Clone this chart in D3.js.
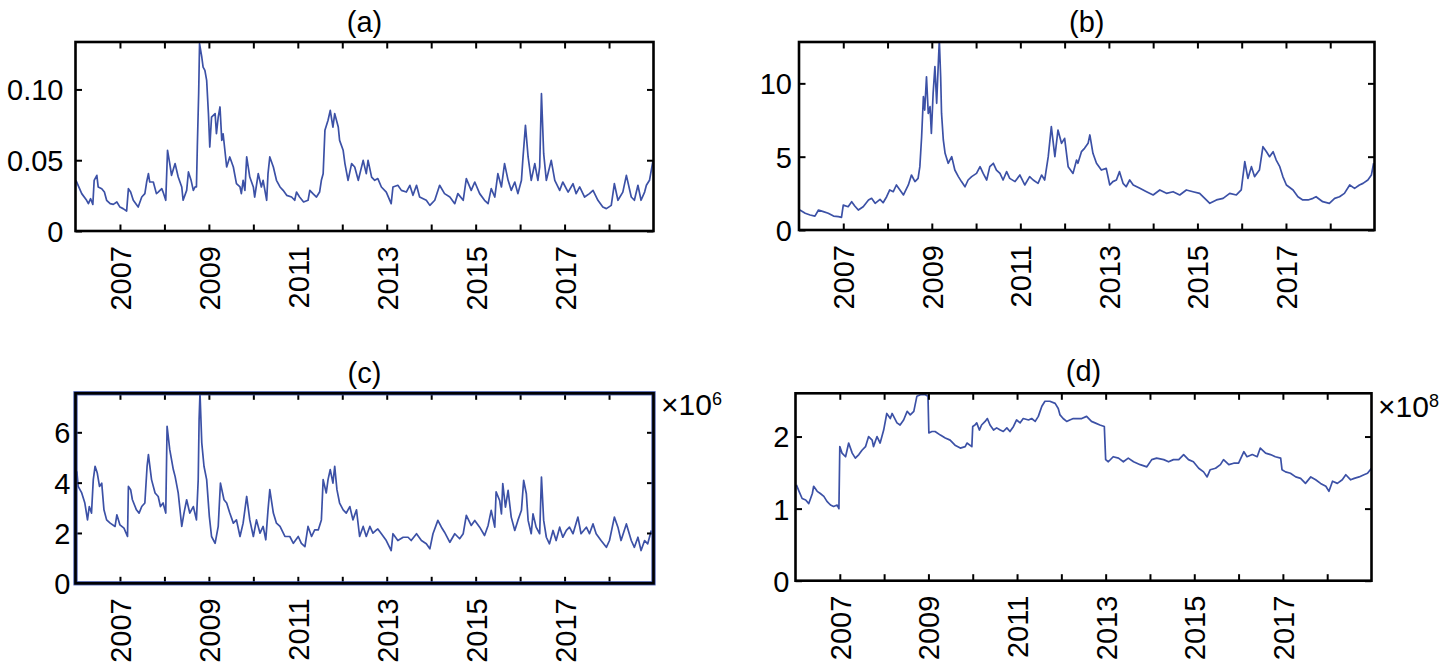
<!DOCTYPE html>
<html><head><meta charset="utf-8">
<script src="https://cdn.jsdelivr.net/npm/d3@7"></script>
<style>
body{margin:0;background:#fff}
svg{display:block}
text{font-family:"Liberation Sans",Arial,Helvetica,sans-serif;fill:#000}
</style>
</head><body>
<svg id="chart" width="1446" height="665"></svg>
<script>
// ---------------- data ----------------
const baseYear = 2006;            // series x values are years since baseYear
const xTickYears = [2007,2008,2009,2010,2011,2012,2013,2014,2015,2016,2017,2018];
const xLabelYears = [2007,2009,2011,2013,2015,2017];
const panelTitles = ["(a)","(b)","(c)","(d)"];
const yTicksA = [0,0.05,0.10], yLabelsA = ["0","0.05","0.10"];
const yTicksB = [0,5,10],      yLabelsB = ["0","5","10"];
const yTicksC = [0,2,4,6],     yLabelsC = ["0","2","4","6"];
const yTicksD = [0,1,2],       yLabelsD = ["0","1","2"];
const multiplierC = ["×10","6"];
const multiplierD = ["×10","8"];

const seriesA = [[0.01,.0358],[0.14,.0264],[0.25,.0217],[0.29,.0193],[0.34,.0228],[0.39,.0188],[0.42,.0358],[0.48,.0393],[0.51,.0311],[0.59,.0299],[0.65,.0275],[0.70,.0217],[0.78,.0193],[0.85,.0188],[0.93,.0205],[1.00,.0169],[1.07,.0158],[1.15,.0141],[1.19,.0299],[1.24,.0275],[1.30,.0217],[1.41,.0169],[1.49,.0240],[1.56,.0264],[1.60,.0346],[1.64,.0405],[1.67,.0346],[1.75,.0346],[1.82,.0264],[1.86,.0275],[1.94,.0299],[1.97,.0275],[2.03,.0217],[2.07,.0570],[2.12,.0476],[2.16,.0393],[2.24,.0476],[2.31,.0381],[2.39,.0311],[2.42,.0217],[2.50,.0287],[2.54,.0417],[2.60,.0358],[2.65,.0287],[2.69,.0311],[2.72,.0311],[2.74,.0593],[2.77,.0970],[2.79,.1323],[2.84,.1229],[2.87,.1158],[2.91,.1135],[2.95,.1064],[2.99,.0829],[3.02,.0593],[3.06,.0805],[3.14,.0829],[3.17,.0687],[3.21,.0805],[3.25,.0876],[3.29,.0640],[3.32,.0687],[3.40,.0452],[3.47,.0523],[3.55,.0452],[3.62,.0334],[3.70,.0311],[3.73,.0264],[3.77,.0358],[3.81,.0287],[3.85,.0523],[3.92,.0381],[4.00,.0311],[4.03,.0240],[4.11,.0405],[4.18,.0311],[4.22,.0358],[4.30,.0217],[4.33,.0405],[4.37,.0523],[4.45,.0452],[4.52,.0358],[4.60,.0311],[4.67,.0287],[4.75,.0252],[4.86,.0240],[4.93,.0217],[4.97,.0275],[5.04,.0240],[5.13,.0205],[5.23,.0217],[5.27,.0287],[5.34,.0264],[5.42,.0240],[5.49,.0275],[5.53,.0358],[5.57,.0405],[5.61,.0711],[5.68,.0782],[5.73,.0852],[5.79,.0734],[5.83,.0829],[5.91,.0734],[5.94,.0640],[6.02,.0570],[6.06,.0476],[6.13,.0358],[6.21,.0476],[6.28,.0452],[6.36,.0358],[6.47,.0499],[6.54,.0405],[6.58,.0499],[6.66,.0381],[6.73,.0358],[6.80,.0370],[6.88,.0311],[6.99,.0275],[7.10,.0193],[7.14,.0311],[7.25,.0323],[7.33,.0287],[7.44,.0275],[7.52,.0323],[7.59,.0252],[7.67,.0323],[7.74,.0240],[7.89,.0217],[7.97,.0181],[8.08,.0217],[8.19,.0323],[8.30,.0264],[8.42,.0240],[8.53,.0193],[8.60,.0264],[8.72,.0217],[8.79,.0370],[8.90,.0287],[8.98,.0346],[9.09,.0264],[9.20,.0217],[9.28,.0193],[9.35,.0299],[9.43,.0240],[9.50,.0405],[9.58,.0311],[9.65,.0476],[9.73,.0358],[9.80,.0287],[9.88,.0346],[9.95,.0264],[10.03,.0358],[10.06,.0499],[10.12,.0746],[10.18,.0523],[10.25,.0358],[10.33,.0476],[10.40,.0358],[10.44,.0452],[10.48,.0970],[10.53,.0546],[10.59,.0358],[10.70,.0499],[10.78,.0358],[10.89,.0287],[10.96,.0346],[11.08,.0275],[11.19,.0334],[11.26,.0264],[11.34,.0311],[11.45,.0240],[11.56,.0264],[11.64,.0287],[11.75,.0217],[11.86,.0169],[11.94,.0158],[12.05,.0181],[12.12,.0334],[12.20,.0217],[12.31,.0275],[12.39,.0393],[12.50,.0240],[12.57,.0217],[12.65,.0323],[12.72,.0217],[12.80,.0275],[12.84,.0323],[12.91,.0358],[12.99,.0499]];

const seriesB = [[0.02,1.36],[0.14,1.14],[0.25,1.02],[0.36,0.95],[0.44,1.36],[0.55,1.25],[0.66,1.14],[0.78,0.95],[0.89,0.91],[0.96,0.86],[1.00,1.70],[1.11,1.59],[1.19,1.93],[1.26,1.64],[1.34,1.36],[1.45,1.59],[1.57,2.05],[1.64,2.16],[1.72,1.82],[1.83,2.09],[1.90,1.86],[1.98,2.27],[2.05,2.73],[2.13,2.61],[2.20,3.07],[2.28,2.73],[2.36,2.39],[2.47,3.07],[2.54,3.75],[2.62,3.30],[2.69,3.52],[2.73,4.32],[2.77,6.36],[2.81,9.09],[2.84,8.18],[2.88,10.45],[2.92,7.95],[2.96,8.41],[2.99,6.59],[3.03,9.32],[3.07,11.14],[3.11,8.64],[3.15,11.59],[3.17,12.95],[3.20,10.45],[3.22,7.95],[3.26,6.14],[3.30,5.23],[3.37,4.55],[3.45,5.00],[3.52,4.09],[3.60,3.64],[3.67,3.30],[3.75,2.95],[3.82,3.41],[3.90,3.64],[4.01,3.86],[4.09,4.32],[4.16,3.86],[4.24,3.41],[4.31,4.32],[4.39,4.55],[4.46,4.09],[4.54,3.86],[4.61,3.41],[4.69,3.98],[4.76,3.52],[4.88,3.30],[4.99,3.75],[5.10,3.07],[5.21,3.64],[5.29,3.41],[5.40,3.18],[5.48,3.75],[5.55,3.41],[5.63,5.00],[5.70,7.05],[5.78,5.00],[5.85,6.82],[5.93,5.91],[6.00,6.25],[6.08,4.32],[6.19,3.86],[6.27,4.77],[6.30,4.55],[6.38,5.34],[6.45,5.57],[6.53,5.91],[6.57,6.48],[6.64,5.23],[6.72,4.55],[6.83,4.09],[6.94,4.20],[7.02,3.07],[7.09,3.30],[7.17,3.41],[7.24,3.98],[7.32,3.18],[7.39,2.95],[7.47,3.41],[7.55,3.07],[7.70,2.84],[7.85,2.61],[8.00,2.39],[8.15,2.73],[8.30,2.50],[8.45,2.61],[8.60,2.39],[8.75,2.73],[8.90,2.61],[9.05,2.50],[9.20,2.05],[9.28,1.82],[9.43,2.05],[9.58,2.16],[9.73,2.50],[9.88,2.39],[9.99,2.73],[10.07,4.66],[10.14,3.52],[10.22,4.32],[10.29,3.64],[10.40,4.09],[10.48,5.68],[10.56,5.34],[10.63,5.00],[10.71,5.34],[10.78,4.77],[10.86,4.32],[10.93,3.64],[11.01,3.07],[11.16,2.73],[11.27,2.27],[11.38,2.05],[11.50,2.05],[11.61,2.16],[11.68,2.27],[11.83,1.93],[11.98,1.82],[12.10,2.16],[12.21,2.27],[12.32,2.50],[12.44,3.07],[12.55,2.84],[12.66,3.07],[12.74,3.18],[12.85,3.41],[12.93,3.75],[12.98,4.55]];

const seriesC = [[0.03,4.45],[0.06,3.85],[0.14,3.59],[0.21,3.19],[0.27,2.52],[0.31,3.05],[0.36,2.79],[0.40,4.12],[0.44,4.65],[0.49,4.38],[0.54,3.85],[0.59,3.98],[0.64,2.92],[0.70,2.52],[0.78,2.39],[0.89,2.26],[0.93,2.72],[1.00,2.32],[1.09,2.19],[1.17,1.86],[1.19,3.85],[1.24,3.72],[1.28,3.32],[1.37,2.92],[1.43,2.79],[1.49,3.05],[1.56,3.19],[1.61,4.65],[1.64,5.11],[1.71,4.12],[1.79,3.59],[1.86,3.45],[1.91,3.05],[1.97,3.19],[2.03,2.79],[2.06,6.24],[2.12,5.31],[2.20,4.52],[2.24,4.25],[2.31,3.59],[2.39,2.26],[2.44,2.79],[2.50,3.32],[2.57,2.79],[2.65,3.05],[2.72,2.52],[2.76,4.12],[2.78,6.51],[2.80,7.57],[2.84,5.58],[2.89,4.65],[2.95,4.12],[3.01,2.66],[3.06,1.86],[3.14,1.59],[3.21,2.26],[3.26,3.98],[3.34,3.32],[3.40,3.19],[3.47,2.79],[3.55,2.39],[3.62,2.52],[3.70,1.86],[3.77,2.39],[3.85,3.45],[3.92,2.52],[4.00,1.86],[4.07,2.52],[4.15,1.99],[4.22,2.26],[4.28,1.73],[4.33,2.92],[4.37,3.72],[4.45,2.79],[4.52,2.39],[4.60,2.26],[4.71,1.86],[4.82,1.86],[4.90,1.59],[5.01,1.86],[5.08,1.59],[5.16,1.46],[5.23,2.26],[5.31,1.86],[5.38,2.12],[5.46,2.12],[5.53,2.52],[5.57,4.12],[5.64,3.59],[5.68,4.12],[5.73,4.52],[5.79,3.98],[5.83,4.65],[5.88,3.72],[5.94,3.19],[6.02,2.92],[6.09,2.79],[6.17,3.05],[6.24,2.52],[6.32,2.92],[6.39,1.86],[6.47,2.26],[6.54,1.86],[6.62,2.26],[6.69,1.99],[6.77,2.12],[6.80,2.16],[6.88,1.97],[6.99,1.70],[7.10,1.30],[7.14,1.97],[7.25,1.70],[7.37,1.83],[7.48,1.83],[7.55,1.70],[7.67,1.97],[7.78,1.70],[7.89,1.57],[7.97,1.37],[8.04,1.97],[8.15,2.50],[8.23,2.23],[8.30,2.03],[8.42,1.63],[8.53,1.97],[8.64,1.77],[8.72,1.97],[8.79,2.70],[8.90,2.30],[8.98,2.50],[9.09,2.23],[9.20,1.90],[9.28,2.30],[9.35,2.90],[9.43,2.23],[9.46,3.63],[9.54,3.29],[9.58,2.76],[9.61,3.96],[9.67,3.03],[9.73,3.69],[9.80,2.63],[9.88,2.10],[9.95,2.50],[10.03,2.90],[10.08,4.09],[10.14,3.56],[10.18,2.50],[10.25,1.97],[10.29,2.76],[10.36,2.23],[10.44,1.97],[10.48,4.22],[10.53,2.50],[10.59,1.83],[10.66,1.57],[10.74,2.10],[10.81,1.70],[10.89,2.23],[10.96,1.83],[11.04,2.10],[11.11,2.23],[11.19,1.97],[11.30,2.63],[11.37,1.97],[11.49,2.23],[11.56,1.97],[11.64,2.36],[11.71,1.97],[11.82,1.70],[11.94,1.43],[12.01,1.70],[12.12,2.63],[12.20,2.23],[12.27,1.70],[12.39,2.36],[12.50,1.70],[12.57,1.43],[12.65,1.83],[12.72,1.30],[12.80,1.70],[12.87,1.57],[12.95,2.10]];

const seriesD = [[0.02,1.33],[0.08,1.24],[0.15,1.14],[0.23,1.12],[0.30,1.07],[0.38,1.21],[0.41,1.31],[0.49,1.24],[0.56,1.21],[0.64,1.17],[0.71,1.10],[0.79,1.05],[0.86,1.03],[0.94,1.05],[0.98,1.00],[1.00,1.86],[1.05,1.77],[1.13,1.72],[1.20,1.91],[1.28,1.77],[1.35,1.70],[1.43,1.75],[1.50,1.81],[1.58,1.86],[1.65,2.00],[1.73,1.95],[1.76,1.86],[1.84,2.00],[1.91,1.91],[1.99,2.09],[2.06,2.32],[2.14,2.25],[2.18,2.32],[2.29,2.19],[2.36,2.16],[2.44,2.23],[2.52,2.35],[2.59,2.30],[2.67,2.35],[2.74,2.56],[2.82,2.58],[2.93,2.58],[2.99,2.56],[3.01,2.05],[3.08,2.07],[3.15,2.07],[3.27,2.02],[3.38,1.98],[3.49,1.95],[3.60,1.88],[3.72,1.84],[3.83,1.86],[3.87,1.91],[3.98,1.86],[4.00,2.14],[4.05,2.16],[4.09,2.19],[4.15,2.09],[4.20,2.16],[4.28,2.21],[4.33,2.25],[4.39,2.16],[4.47,2.09],[4.54,2.12],[4.62,2.09],[4.69,2.07],[4.77,2.12],[4.84,2.07],[4.92,2.14],[4.99,2.23],[5.07,2.19],[5.14,2.25],[5.26,2.23],[5.33,2.25],[5.41,2.21],[5.48,2.28],[5.56,2.42],[5.63,2.49],[5.74,2.49],[5.86,2.46],[5.93,2.39],[5.97,2.30],[6.04,2.25],[6.12,2.21],[6.19,2.23],[6.27,2.25],[6.34,2.25],[6.46,2.25],[6.57,2.28],[6.68,2.21],[6.76,2.19],[6.87,2.16],[6.97,2.14],[7.00,1.68],[7.06,1.65],[7.17,1.72],[7.29,1.70],[7.40,1.65],[7.51,1.70],[7.63,1.65],[7.78,1.61],[7.93,1.58],[8.04,1.68],[8.15,1.70],[8.31,1.68],[8.42,1.65],[8.53,1.68],[8.65,1.68],[8.76,1.75],[8.87,1.68],[8.98,1.65],[9.10,1.56],[9.21,1.51],[9.29,1.44],[9.36,1.54],[9.48,1.56],[9.59,1.61],[9.66,1.68],[9.78,1.61],[9.89,1.63],[10.00,1.63],[10.12,1.79],[10.19,1.72],[10.31,1.75],[10.42,1.72],[10.49,1.84],[10.61,1.77],[10.72,1.75],[10.83,1.72],[10.95,1.70],[10.98,1.54],[11.06,1.51],[11.17,1.49],[11.29,1.44],[11.40,1.42],[11.51,1.35],[11.63,1.44],[11.74,1.40],[11.85,1.35],[11.97,1.31],[12.04,1.24],[12.12,1.38],[12.23,1.35],[12.34,1.40],[12.42,1.47],[12.53,1.40],[12.61,1.42],[12.72,1.44],[12.83,1.47],[12.91,1.49],[13.00,1.56]];

// ---------------- layout ----------------
const lineColor = "#3c51a6";
const panels = [
  {title:panelTitles[0], data:seriesA, yMax:0.1335, yTicks:yTicksA, yLabels:yLabelsA,
   left:75.5, right:653.5, top:42, bottom:231, labelGap:12, titleY:31.5, mult:null},
  {title:panelTitles[1], data:seriesB, yMax:12.82, yTicks:yTicksB, yLabels:yLabelsB,
   left:799, right:1374.5, top:42, bottom:230, labelGap:7, titleY:31.5, mult:null},
  {title:panelTitles[2], data:seriesC, yMax:7.55, yTicks:yTicksC, yLabels:yLabelsC,
   left:75.5, right:653.5, top:393.3, bottom:583.3, labelGap:5, titleY:383, mult:multiplierC,
   multX:661, multY:415, blueFrame:true},
  {title:panelTitles[3], data:seriesD, yMax:2.6, yTicks:yTicksD, yLabels:yLabelsD,
   left:795.5, right:1371.5, top:393.3, bottom:580.7, labelGap:6, titleY:381, mult:multiplierD,
   multX:1378, multY:416.5}
];

const svg = d3.select("#chart");
const fontSize = 29;

panels.forEach((p, i) => {
  const x = d3.scaleLinear().domain([baseYear, baseYear + 13]).range([p.left, p.right]);
  const y = d3.scaleLinear().domain([0, p.yMax]).range([p.bottom, p.top]);
  const g = svg.append("g");

  const clipId = "clip" + i;
  svg.append("defs").append("clipPath").attr("id", clipId)
    .append("rect").attr("x", p.left).attr("y", p.top)
    .attr("width", p.right - p.left).attr("height", p.bottom - p.top);

  const line = d3.line().x(d => x(baseYear + d[0])).y(d => y(d[1]));
  g.append("path").datum(p.data)
    .attr("clip-path", `url(#${clipId})`)
    .attr("fill", "none").attr("stroke", lineColor)
    .attr("stroke-width", 1.7).attr("stroke-linejoin", "round")
    .attr("d", line);

  // bottom axis with rotated labels
  const xb = g.append("g").attr("transform", `translate(0,${p.bottom})`)
    .call(d3.axisBottom(x).tickValues(xTickYears).tickSize(-6.5)
      .tickFormat(d => xLabelYears.includes(d) ? String(d) : ""));
  xb.selectAll("text")
    .attr("transform", "rotate(-90)")
    .attr("x", -15).attr("y", 0).attr("dy", "0.36em")
    .attr("text-anchor", "end")
    .style("font-size", fontSize + "px");
  // top axis ticks
  g.append("g").attr("transform", `translate(0,${p.top})`)
    .call(d3.axisTop(x).tickValues(xTickYears).tickSize(-6.5).tickFormat(""));
  // left axis
  const yl = g.append("g").attr("transform", `translate(${p.left},0)`)
    .call(d3.axisLeft(y).tickValues(p.yTicks).tickSize(-6.5).tickPadding(p.labelGap)
      .tickFormat((d, k) => p.yLabels[k]));
  yl.selectAll("text").style("font-size", fontSize + "px").attr("dy", "0.36em");
  // right axis ticks
  g.append("g").attr("transform", `translate(${p.right},0)`)
    .call(d3.axisRight(y).tickValues(p.yTicks).tickSize(-6.5).tickFormat(""));

  g.selectAll(".domain").remove();
  g.selectAll(".tick line").attr("stroke", "#000").attr("stroke-width", 2);

  // frame
  if (p.blueFrame) {
    g.append("rect").attr("x", p.left).attr("y", p.top)
      .attr("width", p.right - p.left).attr("height", p.bottom - p.top)
      .attr("fill", "none").attr("stroke", lineColor).attr("stroke-width", 4.2);
  }
  g.append("rect").attr("x", p.left).attr("y", p.top)
    .attr("width", p.right - p.left).attr("height", p.bottom - p.top)
    .attr("fill", "none").attr("stroke", "#000").attr("stroke-width", 2.6);

  // title
  g.append("text").attr("x", (p.left + p.right) / 2).attr("y", p.titleY)
    .attr("text-anchor", "middle").style("font-size", fontSize + "px").text(p.title);

  // multiplier
  if (p.mult) {
    const t = g.append("text").attr("x", p.multX).attr("y", p.multY).style("font-size", "30px");
    t.append("tspan").text(p.mult[0]);
    t.append("tspan").attr("dy", -10).style("font-size", "18px").text(p.mult[1]);
  }
});
</script>
</body></html>
